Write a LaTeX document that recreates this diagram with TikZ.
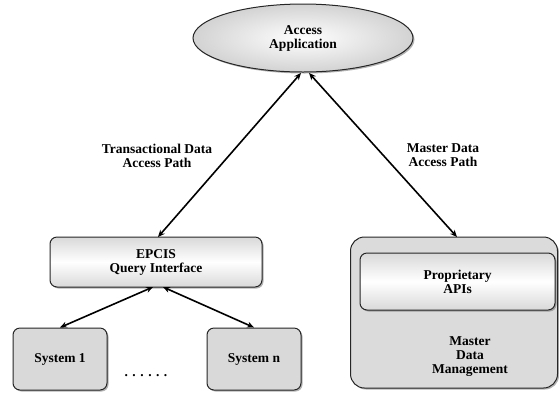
\documentclass[tikz,border=0pt]{standalone}
\usepackage{fontspec}
\setmainfont{Liberation Serif}
\usetikzlibrary{shapes.geometric,shadows,arrows.meta}
\begin{document}
\begin{tikzpicture}[x=1pt,y=-1pt,
  txt/.style={font=\fontsize{13.5}{14}\selectfont\bfseries,align=center},
  shbox/.style={draw=black!85,line width=1pt,rounded corners=7pt,top color=gray!30,bottom color=gray!30,middle color=white,
     drop shadow={shadow xshift=1.5pt,shadow yshift=-1.5pt,fill=black!60},txt,inner sep=0pt},
  sysbox/.style={draw=black!85,line width=1pt,rounded corners=7pt,fill=gray!30,
     drop shadow={shadow xshift=1.5pt,shadow yshift=-1.5pt,fill=black!60},txt,inner sep=0pt},
  link/.style={line width=1.6pt,{Stealth[length=7pt,width=6pt]}-{Stealth[length=7pt,width=6pt]}}
]
\useasboundingbox (0,0) rectangle (559,392);
\node[ellipse,draw=black!85,line width=1pt,inner color=white,outer color=gray!35,
  drop shadow={shadow xshift=1.5pt,shadow yshift=-1.5pt,fill=black!60},txt,
  minimum width=220pt,minimum height=68pt,inner sep=0pt] (app) at (303,38) {Access\\Application};
\node[shbox,minimum width=212pt,minimum height=50pt] (epcis) at (156,262) {EPCIS\\Query Interface};
\node[sysbox,minimum width=94pt,minimum height=62pt] (s1) at (60,359) {System 1};
\node[sysbox,minimum width=94pt,minimum height=62pt] (sn) at (254,359) {System n};
\node[txt] (dots) at (146,376) {.\,\,.\,\,.\,\,.\,\,.\,\,.};
\node[draw=black!85,line width=1pt,rounded corners=14pt,fill=gray!28,
  drop shadow={shadow xshift=1.5pt,shadow yshift=-1.5pt,fill=black!60},
  minimum width=207pt,minimum height=151pt,inner sep=0pt] (mdm) at (454,312.5) {};
\node[shbox,minimum width=195pt,minimum height=57pt] (api) at (457.5,281.5) {Proprietary\\APIs};
\node[txt] (mdmtxt) at (470,357) {Master\\Data\\Management};
\node[txt] (tlab) at (157,156) {Transactional Data\\Access Path};
\node[txt] (mlab) at (443,155) {Master Data\\Access Path};
\coordinate (a1) at (301,73);
\coordinate (a2) at (309,73);
\coordinate (e1) at (158,237);
\coordinate (m1) at (457,237);
\draw[link] (a1) -- (e1);
\draw[link] (a2) -- (m1);
\coordinate (eb1) at (153,287);
\coordinate (eb2) at (163,287);
\draw[link] (eb1) -- (s1.north);
\draw[link] (eb2) -- (sn.north);
\end{tikzpicture}
\end{document}
